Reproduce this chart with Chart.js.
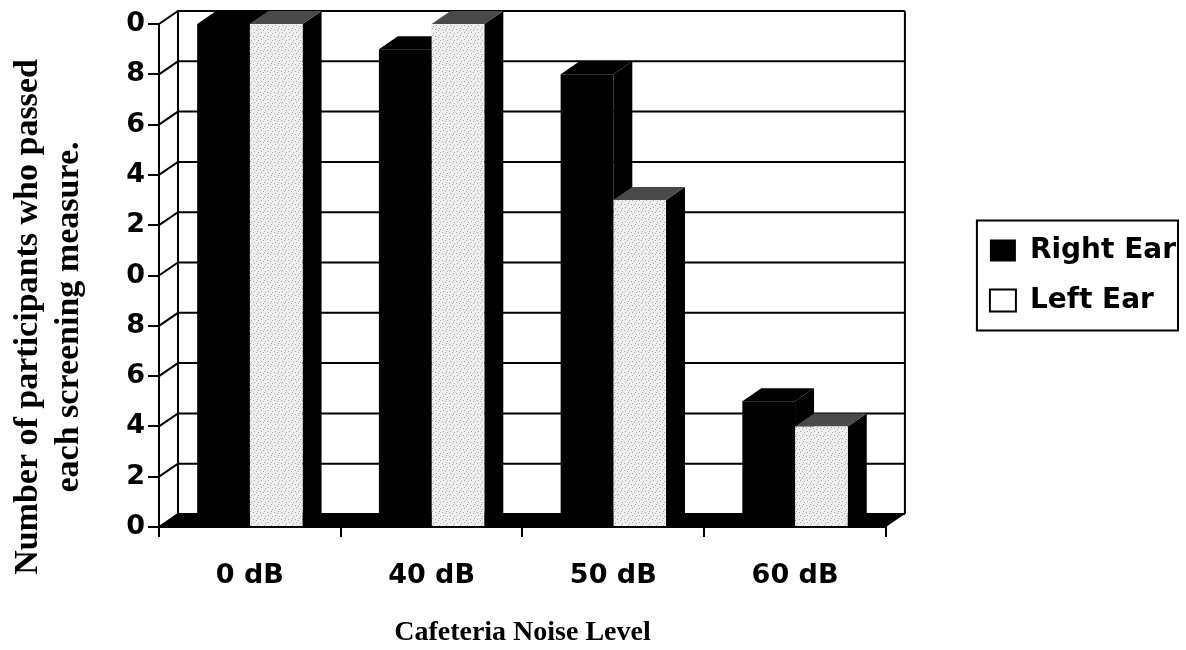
<!DOCTYPE html>
<html>
<head>
<meta charset="utf-8">
<script src="https://cdn.jsdelivr.net/npm/chart.js@4/dist/chart.umd.min.js"></script>
<style>
  html, body { margin: 0; padding: 0; background: #fff; }
  #wrap { width: 1186px; height: 650px; position: relative; }
</style>
</head>
<body>
<div id="wrap"><canvas id="chart"></canvas></div>
<script>
const categories = ['0 dB', '40 dB', '50 dB', '60 dB'];
const rightEar = [20, 19, 18, 5];
const leftEar = [20, 20, 13, 4];
const yTickLabels = ['0', '2', '4', '6', '8', '0', '2', '4', '6', '8', '0'];
const yTitle = ['Number of participants who passed', 'each screening measure.'];
const xTitle = 'Cafeteria Noise Level';

const depthX = 19;
const depthY = 13;

// light speckled fill for the left ear bars
function speckle() {
    const c = document.createElement('canvas');
    c.width = 7;
    c.height = 7;
    const g = c.getContext('2d');
    g.fillStyle = '#eeeeee';
    g.fillRect(0, 0, 7, 7);
    g.fillStyle = '#a8a8a8';
    [[1, 1], [4, 2], [2, 4], [6, 5], [5, 0]].forEach(p => g.fillRect(p[0], p[1], 1, 1));
    return g.createPattern(c, 'repeat');
}

function poly(ctx, pts) {
    ctx.beginPath();
    ctx.moveTo(pts[0][0], pts[0][1]);
    pts.slice(1).forEach(p => ctx.lineTo(p[0], p[1]));
    ctx.closePath();
    ctx.fill();
}

const facesPlugin = {
    id: 'faces',
    beforeDatasetsDraw(chart) {
        const { ctx, chartArea: a } = chart;
        const y = chart.scales.y;
        ctx.save();
        ctx.strokeStyle = '#000';
        ctx.lineWidth = 2;

        // side wall connectors + back wall grid
        y.ticks.forEach(t => {
            const py = y.getPixelForValue(t.value);
            ctx.beginPath();
            ctx.moveTo(a.left, py);
            ctx.lineTo(a.left + depthX, py - depthY);
            ctx.lineTo(a.right + depthX, py - depthY);
            ctx.stroke();
        });
        ctx.beginPath();
        ctx.moveTo(a.left + depthX, a.top - depthY);
        ctx.lineTo(a.left + depthX, a.bottom - depthY);
        ctx.moveTo(a.right + depthX, a.top - depthY);
        ctx.lineTo(a.right + depthX, a.bottom - depthY);
        ctx.stroke();

        // floor
        ctx.fillStyle = '#000';
        poly(ctx, [[a.left, a.bottom], [a.left + depthX, a.bottom - depthY],
                   [a.right + depthX, a.bottom - depthY], [a.right, a.bottom]]);

        // top and side faces of the bars
        const topColors = ['#000', '#4a4a4a'];
        chart.data.datasets.forEach((ds, i) => {
            chart.getDatasetMeta(i).data.forEach(bar => {
                const p = bar.getProps(['x', 'y', 'base', 'width'], true);
                const l = p.x - p.width / 2;
                const r = p.x + p.width / 2;
                ctx.fillStyle = '#000';
                poly(ctx, [[r, p.y], [r + depthX, p.y - depthY], [r + depthX, p.base - depthY], [r, p.base]]);
                ctx.fillStyle = topColors[i];
                poly(ctx, [[l, p.y], [l + depthX, p.y - depthY], [r + depthX, p.y - depthY], [r, p.y]]);
            });
        });
        ctx.restore();
    },
    afterDraw(chart) {
        const { ctx } = chart;
        ctx.save();

        // y axis title, two lines
        ctx.fillStyle = '#000';
        ctx.font = 'bold 34px "Liberation Serif"';
        ctx.textAlign = 'center';
        ctx.textBaseline = 'middle';
        ctx.translate(28, 317);
        ctx.rotate(-Math.PI / 2);
        ctx.fillText(yTitle[0], 0, 0);
        ctx.fillText(yTitle[1], 0, 41);
        ctx.setTransform(1, 0, 0, 1, 0, 0);

        // legend frame
        const hb = chart.legend.legendHitBoxes;
        if (hb && hb.length) {
            const left = hb[0].left - 13;
            const top = hb[0].top + hb[0].height / 2 - 30;
            const last = hb[hb.length - 1];
            const bottom = last.top + last.height / 2 + 30;
            const right = chart.width - 8;
            ctx.strokeStyle = '#000';
            ctx.lineWidth = 2;
            ctx.strokeRect(left, top, right - left, bottom - top);
        }
        ctx.restore();
    }
};

function buildNoiseChart() {
    const chartCtx = document.getElementById('chart').getContext('2d');
    const tickFont = { family: '"DejaVu Sans"', weight: 'bold', size: 27 };

    new Chart(chartCtx, {
        type: 'bar',
        data: {
            labels: categories,
            datasets: [{
                label: 'Right Ear',
                data: rightEar,
                backgroundColor: '#000',
                borderWidth: 0
            },
            {
                label: 'Left Ear',
                data: leftEar,
                backgroundColor: speckle(),
                borderWidth: 0
            }]
        },
        options: {
            responsive: true,
            maintainAspectRatio: false,
            animation: false,
            layout: { padding: { top: 24, left: 0, right: 0, bottom: 0 } },
            datasets: {
                bar: { barPercentage: 1, categoryPercentage: 0.58 }
            },
            plugins: {
                tooltip: { enabled: false },
                legend: {
                    position: 'right',
                    fullSize: false,
                    maxWidth: 320,
                    labels: {
                        color: '#000',
                        font: { family: '"DejaVu Sans"', weight: 'bold', size: 28 },
                        boxWidth: 26,
                        boxHeight: 22,
                        padding: 22,
                        generateLabels(chart) {
                            const items = Chart.defaults.plugins.legend.labels.generateLabels(chart);
                            items[0].fillStyle = '#000';
                            items[0].lineWidth = 0;
                            items[1].fillStyle = '#fff';
                            items[1].strokeStyle = '#000';
                            items[1].lineWidth = 2;
                            return items;
                        }
                    }
                }
            },
            scales: {
                x: {
                    grid: { drawOnChartArea: false, tickLength: 10, color: '#000', lineWidth: 2 },
                    border: { color: '#000', width: 2 },
                    ticks: { color: '#000', font: tickFont, padding: 23, maxRotation: 0 },
                    title: {
                        display: true,
                        text: xTitle,
                        color: '#000',
                        font: { family: '"Liberation Serif"', weight: 'bold', size: 28 },
                        padding: { top: 0, bottom: 0 }
                    },
                    afterFit(scale) { scale.height = 123; }
                },
                y: {
                    min: 0,
                    max: 20,
                    ticks: {
                        stepSize: 2,
                        color: '#000',
                        font: tickFont,
                        padding: 3,
                        callback: (value, index) => yTickLabels[index]
                    },
                    grid: { drawOnChartArea: false, tickLength: 11, color: '#000', lineWidth: 2 },
                    border: { color: '#000', width: 2 },
                    afterFit(scale) { scale.width = 159; }
                },
                gap: {
                    type: 'linear',
                    position: 'right',
                    grid: { display: false },
                    border: { display: false },
                    ticks: { display: false },
                    afterFit(scale) { scale.width = 82; }
                }
            }
        },
        plugins: [facesPlugin]
    });
}

buildNoiseChart();
</script>
</body>
</html>
